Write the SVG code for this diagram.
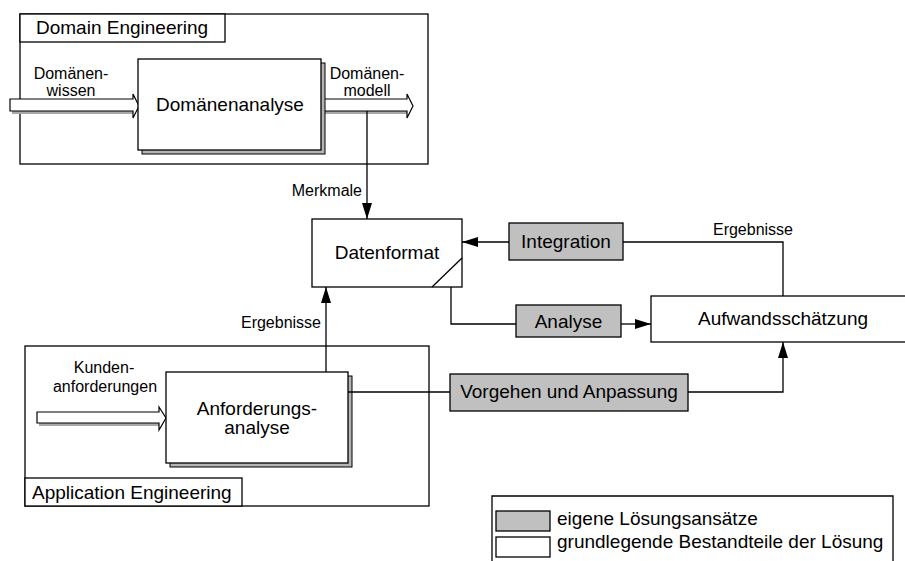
<svg xmlns="http://www.w3.org/2000/svg" width="905" height="561" viewBox="0 0 905 561">
  <style>
    .box { fill: #ffffff; stroke: #000000; stroke-width: 1.3; }
    .own { fill: #c0c0c0; stroke: #000000; stroke-width: 1.3; }
    .shadow { fill: #b4b4b4; stroke: #000000; stroke-width: 1; }
    .frame { fill: none; stroke: #000000; stroke-width: 1.3; }
    .line { fill: none; stroke: #000000; stroke-width: 1.3; }
    .flow { fill: #ffffff; stroke: #000000; stroke-width: 1.2; }
    .flowshadow { fill: #a8a8a8; stroke: none; }
    text { font-family: "Liberation Sans", Arial, sans-serif; fill: #000000; }
    .big { font-size: 19px; }
    .small { font-size: 16px; }
    .mid { text-anchor: middle; }
    .end { text-anchor: end; }
  </style>
  <defs>
    <marker id="head" markerUnits="userSpaceOnUse" markerWidth="16" markerHeight="10" refX="16" refY="5" orient="auto">
      <path d="M0,0 L16,5 L0,10 Z" fill="#000000"/>
    </marker>
  </defs>

  <rect width="905" height="561" fill="#ffffff"/>

  <!-- Domain Engineering container -->
  <g id="domain-engineering">
    <rect class="frame" x="20" y="14" width="408" height="150"/>
    <rect class="box" x="20" y="14" width="205" height="28"/>
    <text class="big" x="36" y="34">Domain Engineering</text>
  </g>

  <!-- Application Engineering container -->
  <g id="application-engineering">
    <rect class="frame" x="25" y="346" width="404" height="160"/>
    <rect class="box" x="25" y="478" width="217" height="28"/>
    <text class="big" x="32" y="499">Application Engineering</text>
  </g>

  <!-- Block arrows (input / output flows) -->
  <g id="flow-domaenenwissen">
    <polygon class="flowshadow" points="12,102 135,102 135,114 12,114"/>
    <polygon class="flow" points="10,99 133,99 133,94 139,106 133,118 133,111 10,111"/>
    <text class="small mid" x="71" y="79">Domänen-</text>
    <text class="small mid" x="71" y="96">wissen</text>
  </g>

  <g id="flow-domaenenmodell">
    <polygon class="flowshadow" points="322,102 409,102 409,114 322,114"/>
    <polygon class="flow" points="320,99 407,99 407,94 413,106 407,118 407,111 320,111"/>
    <text class="small mid" x="367" y="79">Domänen-</text>
    <text class="small mid" x="367" y="96">modell</text>
  </g>

  <g id="flow-kundenanforderungen">
    <polygon class="flowshadow" points="39,415 161,415 161,426 39,426"/>
    <polygon class="flow" points="37,412 159,412 159,407 166,418 159,430 159,423 37,423"/>
    <text class="small mid" x="104" y="373">Kunden-</text>
    <text class="small mid" x="105" y="392">anforderungen</text>
  </g>

  <!-- Process nodes -->
  <g id="domaenenanalyse">
    <rect class="shadow" x="142" y="63" width="183" height="91"/>
    <rect class="box" x="138" y="59" width="183" height="91"/>
    <text class="big mid" x="230" y="111">Domänenanalyse</text>
  </g>

  <g id="anforderungsanalyse">
    <rect class="shadow" x="170" y="376" width="182" height="91"/>
    <rect class="box" x="166" y="372" width="182" height="91"/>
    <text class="big mid" x="257" y="415">Anforderungs-</text>
    <text class="big mid" x="257" y="434">analyse</text>
  </g>

  <g id="datenformat">
    <rect class="box" x="312" y="219" width="150" height="68"/>
    <line class="line" x1="462" y1="258" x2="432" y2="287"/>
    <text class="big mid" x="387" y="259">Datenformat</text>
  </g>

  <g id="aufwandsschaetzung">
    <rect class="box" x="651" y="296" width="260" height="46"/>
    <text class="big mid" x="783" y="325">Aufwandsschätzung</text>
  </g>

  <g id="integration">
    <rect class="own" x="509" y="223" width="114" height="37"/>
    <text class="big mid" x="566" y="248">Integration</text>
  </g>

  <g id="analyse">
    <rect class="own" x="516" y="305" width="105" height="32"/>
    <text class="big mid" x="568.5" y="328">Analyse</text>
  </g>

  <g id="vorgehen-anpassung">
    <rect class="own" x="450" y="374" width="238" height="37"/>
    <text class="big mid" x="569" y="398">Vorgehen und Anpassung</text>
  </g>

  <!-- Connectors -->
  <g id="connectors">
    <polyline class="line" points="367,111 367,219" marker-end="url(#head)"/>
    <text class="small end" x="362" y="196">Merkmale</text>

    <polyline class="line" points="783,296 783,242 623,242"/>
    <polyline class="line" points="509,242 462,242" marker-end="url(#head)"/>
    <text class="small mid" x="753" y="235">Ergebnisse</text>

    <polyline class="line" points="451,287 451,324 516,324"/>
    <polyline class="line" points="621,324 651,324" marker-end="url(#head)"/>

    <polyline class="line" points="326,372 326,287" marker-end="url(#head)"/>
    <text class="small end" x="321" y="328">Ergebnisse</text>

    <polyline class="line" points="348,392 450,392"/>
    <polyline class="line" points="688,392 783,392 783,342" marker-end="url(#head)"/>
  </g>

  <!-- Legend -->
  <g id="legend">
    <polyline class="frame" points="492,566 492,496 893,496 893,566"/>
    <rect class="own" x="496" y="511" width="54" height="20"/>
    <text class="big" x="557" y="525">eigene Lösungsansätze</text>
    <rect class="box" x="496" y="537" width="54" height="20"/>
    <text class="big" x="557" y="548">grundlegende Bestandteile der Lösung</text>
  </g>
</svg>
